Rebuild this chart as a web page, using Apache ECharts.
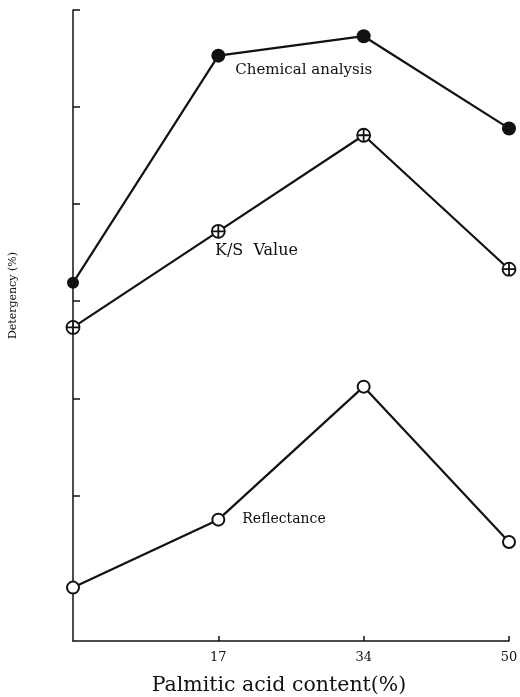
<!DOCTYPE html>
<html>
<head>
<meta charset="utf-8">
<script src="https://cdn.jsdelivr.net/npm/echarts@6/dist/echarts.min.js"></script>
<style>
html,body{margin:0;padding:0;background:#fff;}
#c{width:520px;height:697px;}
</style>
</head>
<body>
<div id="c"></div>
<script>
const categories = ['0', '17', '34', '50'];
const xTickLabels = ['', '17', '34', '50'];
const chemical = [36.9, 60.3, 62.3, 52.8];
const ksValue = [32.3, 42.2, 52.1, 38.3];
const reflectance = [5.5, 12.5, 26.2, 10.2];
const yTickValues = [15, 25, 35, 45, 55, 65];

const serif = '"DejaVu Serif", "Liberation Serif", serif';
const crossCircle = 'path://M-10,0 A10,10 0 1,1 10,0 A10,10 0 1,1 -10,0 Z M-10,0 L10,0 M0,-10 L0,10';

const chart = echarts.init(document.getElementById('c'), null, {renderer: 'canvas'});
chart.setOption({
  backgroundColor: '#fff',
  animation: false,
  grid: {left: 73, right: 11, top: 10, bottom: 56, containLabel: false, outerBoundsMode: 'none'},
  xAxis: {
    type: 'category',
    data: categories,
    boundaryGap: false,
    name: 'Palmitic acid content(%)',
    nameLocation: 'middle',
    nameGap: 34,
    nameTextStyle: {fontFamily: serif, fontSize: 20.5, color: '#111', padding: [0, 24, 0, 0]},
    axisLine: {lineStyle: {color: '#111', width: 1.5}},
    axisTick: {show: true, inside: true, length: 5, lineStyle: {color: '#111', width: 1.5},
      interval: function (i) { return i > 0; }},
    axisLabel: {fontFamily: serif, fontSize: 13, color: '#111', margin: 10,
      formatter: function (v, i) { return xTickLabels[i]; }},
    splitLine: {show: false}
  },
  yAxis: {
    type: 'value',
    min: 0,
    max: 65,
    name: 'Detergency (%)',
    nameLocation: 'middle',
    nameGap: 54,
    nameTextStyle: {fontFamily: serif, fontSize: 11, color: '#111', padding: [0, 0, 0, 60]},
    axisLine: {show: true, lineStyle: {color: '#111', width: 1.5}},
    axisTick: {show: true, inside: true, length: 7, lineStyle: {color: '#111', width: 1.5},
      customValues: yTickValues},
    axisLabel: {show: false},
    splitLine: {show: false}
  },
  series: [
    {
      name: 'Chemical analysis',
      type: 'line',
      data: chemical.map(function (v, i) {
        const d = {value: v};
        if (i === 0) { d.symbolSize = 12; }
        if (i === 1) {
          d.label = {show: true, formatter: 'Chemical analysis', position: 'right', distance: 10,
            offset: [0, 14], fontFamily: serif, fontSize: 15, color: '#111'};
        }
        return d;
      }),
      symbol: 'circle',
      symbolSize: 14,
      lineStyle: {color: '#111', width: 2.2},
      itemStyle: {color: '#111'}
    },
    {
      name: 'K/S Value',
      type: 'line',
      data: ksValue.map(function (v, i) {
        const d = {value: v};
        if (i === 1) {
          d.label = {show: true, formatter: 'K/S  Value', position: [4, 27], align: 'left',
            verticalAlign: 'middle', fontFamily: serif, fontSize: 16, color: '#111'};
        }
        return d;
      }),
      symbol: crossCircle,
      symbolSize: 13,
      lineStyle: {color: '#111', width: 2.2},
      itemStyle: {color: '#fff', borderColor: '#111', borderWidth: 1.8}
    },
    {
      name: 'Reflectance',
      type: 'line',
      data: reflectance.map(function (v, i) {
        const d = {value: v};
        if (i === 1) {
          d.label = {show: true, formatter: 'Reflectance', position: 'right', distance: 17,
            fontFamily: serif, fontSize: 14, color: '#111'};
        }
        return d;
      }),
      symbol: 'emptyCircle',
      symbolSize: 12,
      lineStyle: {color: '#111', width: 2.2},
      itemStyle: {color: '#111', borderColor: '#111', borderWidth: 2.4}
    }
  ]
});
</script>
</body>
</html>
